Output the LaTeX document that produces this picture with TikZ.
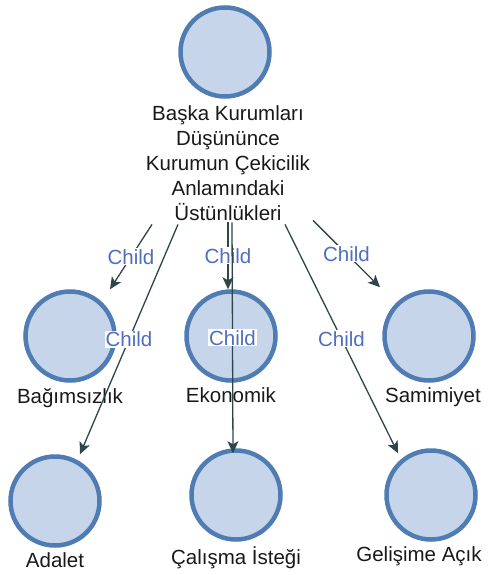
\documentclass[tikz,border=0pt]{standalone}
\usepackage{fontspec}
\setmainfont{Liberation Sans}
\usepackage{tikz}
\usetikzlibrary{positioning}
\usetikzlibrary{arrows.meta}
\definecolor{ringblue}{RGB}{79,125,179}
\definecolor{fillblue}{RGB}{198,213,233}
\definecolor{edgegray}{RGB}{46,70,72}
\definecolor{childblue}{RGB}{80,110,190}
\tikzstyle{topic}=[circle, draw=ringblue, fill=fillblue, line width=4.5pt, minimum size=89pt, inner sep=0pt]
\tikzstyle{caption}=[inner sep=0pt, text=black!90, font=\fontsize{20.5}{24.8}\selectfont, align=center]
\tikzstyle{link}=[draw=edgegray, line width=1.3pt, -{Stealth[length=12pt,width=11pt,inset=3pt]}]
\tikzstyle{tag}=[midway, fill=white, inner sep=1pt, text=childblue, font=\fontsize{20.5}{22}\selectfont]

\begin{document}
\begin{tikzpicture}[x=1pt, y=-1pt]
        \useasboundingbox (0, 0) rectangle (501, 575);
        \node[topic] (root) at (225, 52) {};
        \node[caption, below=7pt of root, xshift=3pt] (rootlbl) {Başka Kurumları\\Düşününce\\Kurumun Çekicilik\\Anlamındaki\\Üstünlükleri};
        \node[topic] (bag) at (70, 336) {};
        \node[topic] (eko) at (231, 336) {};
        \node[topic] (sam) at (429, 336) {};
        \node[topic] (ada) at (55, 501) {};
        \node[topic] (cal) at (236, 495) {};
        \node[topic] (gel) at (431, 495) {};
        \node[caption, below=5pt of bag] (baglbl) {Bağımsızlık};
        \node[caption, below=5pt of eko] (ekolbl) {Ekonomik};
        \node[caption, below=5pt of sam, xshift=4pt] (samlbl) {Samimiyet};
        \node[caption, below=5pt of ada] (adalbl) {Adalet};
        \node[caption, below=5pt of cal] (callbl) {Çalışma İsteği};
        \node[caption, below=5pt of gel, xshift=-12pt] (gellbl) {Gelişime Açık};
        \draw[link] ([xshift=-76pt, yshift=-4pt]rootlbl.south) -- ([xshift=40pt]bag.north) node[tag] {Child};
        \draw[link] ([xshift=0pt, yshift=-2pt]rootlbl.south) -- ([xshift=-3pt]eko.north) node[tag] {Child};
        \draw[link] ([xshift=85pt, yshift=0pt]rootlbl.south) -- ([xshift=-49pt, yshift=2pt]sam.north) node[tag] {Child};
        \draw[link] ([xshift=-50pt, yshift=-4pt]rootlbl.south) -- ([xshift=25pt]ada.north) node[tag] {Child};
        \draw[link] ([xshift=4pt, yshift=-2pt]rootlbl.south) -- ([xshift=-3pt, yshift=-5pt]cal.north) node[tag] {Child};
        \draw[link] ([xshift=57pt, yshift=-4pt]rootlbl.south) -- ([xshift=-33pt, yshift=-5pt]gel.north) node[tag] {Child};
    \end{tikzpicture}
\end{document}
